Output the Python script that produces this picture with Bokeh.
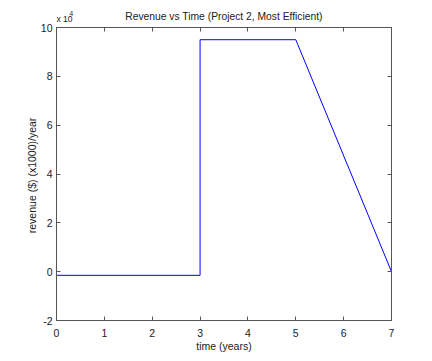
from bokeh.plotting import figure
from bokeh.models import (Range1d, FixedTicker, LinearAxis, CustomJSTickFormatter, Label)
from bokeh.embed import file_html
from bokeh.resources import INLINE

# Data (revenue in $1000/year)
time_years = [0, 3, 3, 5, 7]
revenue = [-1500, -1500, 95000, 95000, 0]

x_ticks = [0, 1, 2, 3, 4, 5, 6, 7]
y_ticks = [-20000, 0, 20000, 40000, 60000, 80000, 100000]
title_text = "Revenue vs Time (Project 2, Most Efficient)"
x_label = "time (years)"
y_label = "revenue ($)  (x1000)/year"

FONT = "Liberation Sans"
TXT = "#222222"
AX = "#555555"

W, H = 430, 359
FL, FT, FR, FB = 56, 27, 391, 320  # frame edges in page pixels

p = figure(width=W, height=H, output_backend="svg", toolbar_location=None,
           x_range=Range1d(0, 7), y_range=Range1d(-20000, 100000),
           min_border_left=FL, min_border_right=W - FR, min_border_top=FT,
           min_border_bottom=H - FB,
           x_axis_location=None, y_axis_location=None)
p.grid.visible = False
p.outline_line_color = AX
p.outline_line_width = 1
p.background_fill_color = "white"
p.border_fill_color = "white"

p.title.text = title_text
p.title.align = "center"
p.title.text_font = FONT
p.title.text_font_size = "10.3px"
p.title.text_font_style = "normal"
p.title.text_color = TXT
p.title.standoff = 11

fmt = CustomJSTickFormatter(code="return (tick/10000).toFixed(0);")
blank = CustomJSTickFormatter(code="return '';")

def style(ax):
    ax.major_tick_in = 4
    ax.major_tick_out = 0
    ax.minor_tick_line_color = None
    ax.axis_line_color = AX
    ax.major_tick_line_color = AX
    ax.major_label_text_font = FONT
    ax.major_label_text_font_size = "10.5px"
    ax.major_label_text_color = TXT
    ax.axis_label_text_font = FONT
    ax.axis_label_text_font_size = "10.5px"
    ax.axis_label_text_font_style = "normal"
    ax.axis_label_text_color = TXT

xb = LinearAxis(ticker=FixedTicker(ticks=x_ticks), axis_label=x_label)
style(xb)
xb.major_label_standoff = 8
xb.axis_label_standoff = 0
p.add_layout(xb, "below")

yl = LinearAxis(ticker=FixedTicker(ticks=y_ticks), formatter=fmt, axis_label=y_label)
style(yl)
yl.major_label_standoff = 4
yl.axis_label_standoff = 0
p.add_layout(yl, "left")

xa = LinearAxis(ticker=FixedTicker(ticks=x_ticks), formatter=blank)
style(xa)
xa.major_label_standoff = 0
p.add_layout(xa, "above")

yr = LinearAxis(ticker=FixedTicker(ticks=y_ticks), formatter=blank)
style(yr)
yr.major_label_standoff = 0
p.add_layout(yr, "right")

p.line(time_years, revenue, line_color="#0000ff", line_width=1)

fh = FB - FT
# exponent label lives in the right side panel (not clipped to the frame)
p.add_layout(Label(x=FL - FR, y=fh - 18 + FT, x_units="screen", y_units="screen",
                   text="x 10", text_align="left", text_baseline="middle",
                   text_font=FONT, text_font_size="8.5px", text_color=TXT), "right")
p.add_layout(Label(x=FL - FR - 3, y=fh - 13 + FT, x_units="screen", y_units="screen",
                   text="4", text_align="left", text_baseline="middle",
                   text_font=FONT, text_font_size="6.5px", text_color=TXT), "right")

open("out.html", "w").write(file_html(p, INLINE))
